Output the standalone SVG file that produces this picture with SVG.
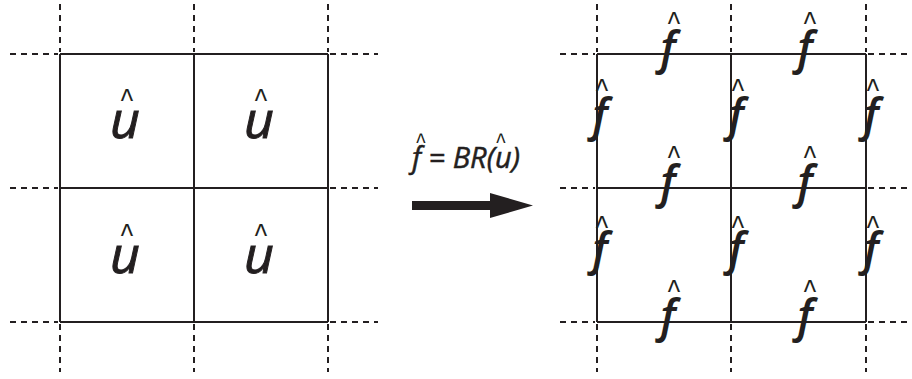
<svg xmlns="http://www.w3.org/2000/svg" width="912" height="379" viewBox="0 0 912 379">
<style>
.s{stroke:#231f20;stroke-width:2;fill:none}
.d{stroke:#231f20;stroke-width:2;fill:none;stroke-dasharray:6 5}
.u{font-family:"Open Sans","Liberation Sans",sans-serif;font-style:italic;font-weight:400;font-size:52px;fill:#231f20;stroke:#231f20;stroke-width:1;text-anchor:middle}
.f{font-family:"Open Sans","Liberation Sans",sans-serif;font-style:italic;font-weight:600;font-size:45px;fill:#231f20;text-anchor:middle}
.h{font-family:"Liberation Sans",sans-serif;font-weight:400;font-size:22px;fill:#231f20;text-anchor:middle}
.e{font-family:"Open Sans","Liberation Sans",sans-serif;font-style:italic;font-weight:400;font-size:29px;fill:#231f20;stroke:#231f20;stroke-width:0.5}
</style>
<rect width="912" height="379" fill="#fff"/>
<g id="connectors">
<path class="s" d="M60 54H328M60 188H328M60 322H328M60 54V322M194 54V322M328 54V322"/>
<path class="d" d="M10 54H58M10 188H58M10 322H58M330 54H378M330 188H378M330 322H378M60 4V52M194 4V52M328 4V52M60 324V372M194 324V372M328 324V372"/>
<path class="s" d="M597 54H866M597 188H866M597 322H866M597 54V322M731 54V322M866 54V322"/>
<path class="d" d="M560 54H595M560 188H595M560 322H595M868 54H912M868 188H912M868 322H912M597 4V52M731 4V52M866 4V52M597 324V372M731 324V372M866 324V372"/>
<path fill="#231f20" d="M412 201H490V193L533 205.5L490 218V210H412Z"/>
</g>
<g id="u1"><text class="u" x="125" y="138">u</text><text class="h" transform="translate(127 112) scale(1.2 1.5)">^</text></g>
<g id="u2"><text class="u" x="259" y="138">u</text><text class="h" transform="translate(261 112) scale(1.2 1.5)">^</text></g>
<g id="u3"><text class="u" x="125" y="273">u</text><text class="h" transform="translate(127 247) scale(1.2 1.5)">^</text></g>
<g id="u4"><text class="u" x="259" y="273">u</text><text class="h" transform="translate(261 247) scale(1.2 1.5)">^</text></g>
<g id="formula"><text class="e" x="412" y="168">f = BR(u)</text><text class="h" transform="translate(421 152) scale(0.9 1.2)">^</text><text class="h" transform="translate(501 152) scale(0.9 1.2)">^</text></g>
<g id="f1"><text class="f" x="668" y="64">f</text><text class="h" transform="translate(674 35) scale(1.2 1.5)">^</text></g>
<g id="f2"><text class="f" x="805" y="64">f</text><text class="h" transform="translate(810 35) scale(1.2 1.5)">^</text></g>
<g id="f3"><text class="f" x="668" y="198">f</text><text class="h" transform="translate(674 169) scale(1.2 1.5)">^</text></g>
<g id="f4"><text class="f" x="805" y="198">f</text><text class="h" transform="translate(810 169) scale(1.2 1.5)">^</text></g>
<g id="f5"><text class="f" x="668" y="332">f</text><text class="h" transform="translate(674 303) scale(1.2 1.5)">^</text></g>
<g id="f6"><text class="f" x="805" y="332">f</text><text class="h" transform="translate(810 303) scale(1.2 1.5)">^</text></g>
<g id="f7"><text class="f" x="600" y="131">f</text><text class="h" transform="translate(602 102) scale(1.2 1.5)">^</text></g>
<g id="f8"><text class="f" x="736" y="131">f</text><text class="h" transform="translate(738 102) scale(1.2 1.5)">^</text></g>
<g id="f9"><text class="f" x="871" y="131">f</text><text class="h" transform="translate(873 102) scale(1.2 1.5)">^</text></g>
<g id="f10"><text class="f" x="600" y="265">f</text><text class="h" transform="translate(602 239) scale(1.2 1.5)">^</text></g>
<g id="f11"><text class="f" x="736" y="265">f</text><text class="h" transform="translate(738 239) scale(1.2 1.5)">^</text></g>
<g id="f12"><text class="f" x="871" y="265">f</text><text class="h" transform="translate(873 239) scale(1.2 1.5)">^</text></g>
</svg>
